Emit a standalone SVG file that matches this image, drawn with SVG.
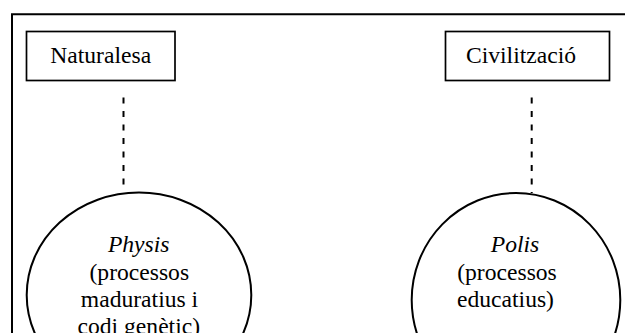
<svg xmlns="http://www.w3.org/2000/svg" width="625" height="333" viewBox="0 0 625 333">
  <style>
    .frame { fill: none; stroke: #000; stroke-width: 2; }
    .box { fill: #fff; stroke: #000; stroke-width: 1.7; }
    .ell { fill: #fff; stroke: #000; stroke-width: 2; }
    .link { fill: none; stroke: #000; stroke-width: 2; stroke-dasharray: 6 7.5; }
    .lbl { font-family: 'Liberation Serif', 'DejaVu Serif', serif; font-size: 23.6px; fill: #000; text-anchor: middle; }
    .it { font-style: italic; }
  </style>

  <!-- open outer frame: top and left sides only -->
  <path class="frame" d="M12 333 V14.3 H625"/>

  <!-- dashed connectors from the labels down to the ellipses -->
  <g id="connectors">
    <line class="link" x1="123.5" y1="97.5" x2="123.5" y2="192"/>
    <line class="link" x1="531.7" y1="97.5" x2="531.7" y2="193"/>
  </g>

  <g id="naturalesa">
    <rect class="box" x="26.5" y="31.5" width="148.5" height="49"/>
    <text class="lbl" x="100.7" y="63.3">Naturalesa</text>
  </g>

  <g id="civilitzacio">
    <rect class="box" x="445.5" y="31.5" width="164" height="49"/>
    <text class="lbl" x="521" y="63.3">Civilització</text>
  </g>

  <g id="physis">
    <ellipse class="ell" cx="139" cy="295" rx="112.3" ry="102.5"/>
    <text class="lbl it" x="138.7" y="251.7">Physis</text>
    <text class="lbl" x="139.3" y="279.8">(processos</text>
    <text class="lbl" x="139.5" y="306.7">maduratius i</text>
    <text class="lbl" x="138.8" y="333.6">codi genètic)</text>
  </g>

  <g id="polis">
    <ellipse class="ell" cx="516" cy="300" rx="104.3" ry="107"/>
    <text class="lbl it" x="515" y="251.7">Polis</text>
    <text class="lbl" x="507" y="279.8">(processos</text>
    <text class="lbl" x="505.5" y="306.7">educatius)</text>
  </g>
</svg>
